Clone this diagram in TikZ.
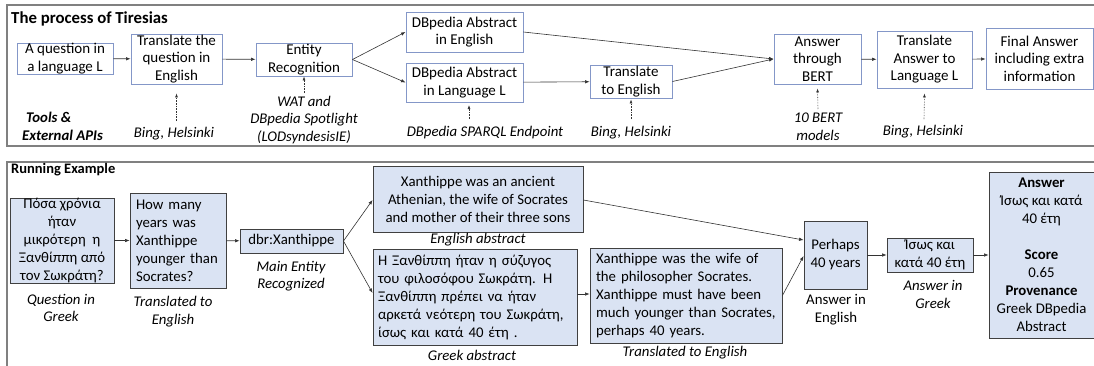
\documentclass[tikz,border=0pt]{standalone}
\usepackage{fontspec}
\setmainfont{Carlito}
\usetikzlibrary{arrows.meta,calc}
\definecolor{framegray}{HTML}{808080}
\definecolor{topborder}{HTML}{8497C8}
\definecolor{boxfill}{HTML}{DAE3F3}
\definecolor{boxborder}{HTML}{404040}
\begin{document}
\begin{tikzpicture}[x=1pt,y=-1pt,
  every node/.style={font=\fontsize{15}{17.5}\selectfont, inner sep=0pt},
  frame/.style={draw=framegray, line width=1.3pt},
  topbox/.style={draw=topborder, line width=0.9pt, fill=white, align=center},
  exbox/.style={draw=boxborder, line width=0.9pt, fill=boxfill, align=center, font=\fontsize{14.8}{18}\selectfont},
  exleft/.style={draw=boxborder, line width=0.9pt, fill=boxfill, align=left, font=\fontsize{14.8}{18}\selectfont},
  lbl/.style={align=center, font=\fontsize{14.8}{17.5}\selectfont\itshape},
  lblup/.style={align=center, font=\fontsize{14.8}{17.5}\selectfont},
  conn/.style={draw=black!80, line width=0.6pt, -{Latex[length=4.5pt,width=3.5pt]}},
  tool/.style={draw=black!80, line width=0.6pt, densely dotted, -{Latex[length=4pt,width=3pt]}}
]
\useasboundingbox (0,0) rectangle (1094,365);
% frames
\draw[frame] (1110,5) -- (7,5) -- (7,146) -- (1110,146);
\draw[frame] (1110,162) -- (7,162) -- (7,380);

% ===== top section =====
\node[anchor=west, font=\fontsize{16.8}{19}\selectfont\bfseries] (title) at (11,19) {The process of Tiresias};

\node[topbox, minimum width=96pt, minimum height=31pt] (t1) at (65,58.5) {A question in\\a language L};
\node[topbox, minimum width=91pt, minimum height=50pt] (t2) at (176.5,59) {Translate the\\question in\\English};
\node[topbox, minimum width=96pt, minimum height=33pt] (t3) at (304,59.5) {Entity\\Recognition};
\node[topbox, minimum width=117pt, minimum height=40pt] (t4) at (464.5,32) {DBpedia Abstract\\in English};
\node[topbox, minimum width=117pt, minimum height=39pt] (t5) at (464.5,82.5) {DBpedia Abstract\\in Language L};
\node[topbox, minimum width=82pt, minimum height=33pt] (t6) at (631,81.5) {Translate\\to English};
\node[topbox, minimum width=87pt, minimum height=50pt] (t7) at (817.5,59) {Answer\\through\\BERT};
\node[topbox, minimum width=95pt, minimum height=57pt] (t8) at (924.5,59.5) {Translate\\Answer to\\Language L};
\node[topbox, minimum width=107pt, minimum height=61pt] (t9) at (1039.5,58.5) {Final Answer\\including extra\\information};

\draw[conn] (t1) -- (t2);
\draw[conn] (t2) -- (t3);
\draw[conn] (t3.east) -- (t4.west);
\draw[conn] (t3.east) -- (t5.west);
\draw[conn] (t5) -- (t6);
\draw[conn] (t4.east) -- (t7.west);
\draw[conn] (t6.east) -- (t7.west);
\draw[conn] (t7) -- (t8);
\draw[conn] (t8) -- (t9);

% tools
\node[anchor=west, font=\fontsize{14.8}{17.5}\selectfont\bfseries\itshape] (tools1) at (26,117) {Tools \&};
\node[anchor=west, font=\fontsize{14.8}{17.5}\selectfont\bfseries\itshape] (tools2) at (22,135) {External APIs};

\node[lbl] (a2) at (174,134) {Bing, Helsinki};
\coordinate (a2s) at (176.5,121);
\draw[tool] (a2s) -- ([yshift=-9pt]t2.south);
\node[lbl] (a3) at (304,120) {WAT and\\DBpedia Spotlight\\(LODsyndesisIE)};
\coordinate (a3s) at (304,93);
\draw[tool] (a3s) -- (t3.south);
\node[lbl] (a5) at (485,133) {DBpedia SPARQL Endpoint};
\coordinate (a5s) at (469,119);
\draw[tool] (a5s) -- (469,105);
\node[lbl] (a6) at (631,133) {Bing, Helsinki};
\coordinate (a6s) at (631,119);
\draw[tool] (a6s) -- ([yshift=-1pt]t6.south);
\node[lbl] (a7) at (818,126.5) {10 BERT\\models};
\coordinate (a7s) at (818,109);
\draw[tool] (a7s) -- ([yshift=-4pt]t7.south);
\node[lbl] (a8) at (923,132) {Bing, Helsinki};
\coordinate (a8s) at (924,119);
\draw[tool] (a8s) -- ([yshift=-5pt]t8.south);

% ===== running example =====
\node[anchor=west, font=\fontsize{14.5}{17}\selectfont\bfseries] (run) at (11,169.5) {Running Example};

\node[exbox, minimum width=104pt, minimum height=85pt] (b1) at (62,240.5) {Πόσα χρόνια\\ήταν\\μικρότερη\ \ η\\Ξανθίππη από\\τον Σωκράτη?};
\node[exleft, text width=84pt, minimum height=95pt, inner xsep=6pt] (b2) at (178,240.5) {How many\\years was\\Xanthippe\\younger than\\Socrates?};
\node[exbox, minimum width=103pt, minimum height=24pt] (b3) at (291.5,241) {dbr:Xanthippe};
\node[exbox, minimum width=210pt, minimum height=66pt] (b4) at (478,199) {Xanthippe was an ancient\\Athenian, the wife of Socrates\\and mother of their three sons};
\node[exleft, text width=194pt, minimum height=96pt, inner xsep=5pt] (b5) at (475,297) {Η Ξανθίππη ήταν η σύζυγος\\του φιλοσόφου Σωκράτη. Η\\Ξανθίππη πρέπει να ήταν\\αρκετά νεότερη του Σωκράτη,\\ίσως και κατά 40 έτη\ .};
\node[exleft, text width=180pt, minimum height=95pt, inner xsep=6pt] (b6) at (686,295.5) {Xanthippe was the wife of\\the philosopher Socrates.\\Xanthippe must have been\\much younger than Socrates,\\perhaps 40 years.};
\node[exbox, minimum width=63pt, minimum height=68pt] (b7) at (835.5,255) {Perhaps\\40 years};
\node[exbox, minimum width=86pt, minimum height=34pt] (b8) at (930,255) {Ίσως και\\κατά 40 έτη};
\node[exbox, minimum width=105pt, minimum height=166pt] (b9) at (1041.5,255) {\textbf{Answer}\\Ίσως και κατά\\40 έτη\\[18pt]\textbf{Score}\\0.65\\\textbf{Provenance}\\Greek DBpedia\\Abstract};

\node[lbl] (l1) at (61,308) {Question in\\Greek};
\node[lbl] (l2) at (173,311.5) {Translated to\\English};
\node[lbl] (l3) at (291,276) {Main Entity\\Recognized};
\node[lbl] (l4) at (478,239.5) {English abstract};
\node[lbl] (l5) at (472,355) {Greek abstract};
\node[lbl] (l6) at (685,353) {Translated to English};
\node[lblup] (l7) at (836,309.5) {Answer in\\English};
\node[lbl] (l8) at (933,294.5) {Answer in\\Greek};

\draw[conn] (b1) -- (b2);
\draw[conn] (b2) -- (b3);
\draw[conn] (b3.east) -- ([yshift=-1pt]b4.west);
\draw[conn] (b3.east) -- ([yshift=4pt]b5.west);
\draw[conn] ([yshift=3pt]b5.east) -- ([yshift=3pt]b5.east -| b6.west);
\draw[conn] ([yshift=-1pt]b4.east) -- ([yshift=15pt]b7.west);
\draw[conn] (b6.east) -- ([yshift=-1pt]b7.west);
\draw[conn] (b7) -- (b8);
\draw[conn] (b8) -- (b9);
\end{tikzpicture}
\end{document}
